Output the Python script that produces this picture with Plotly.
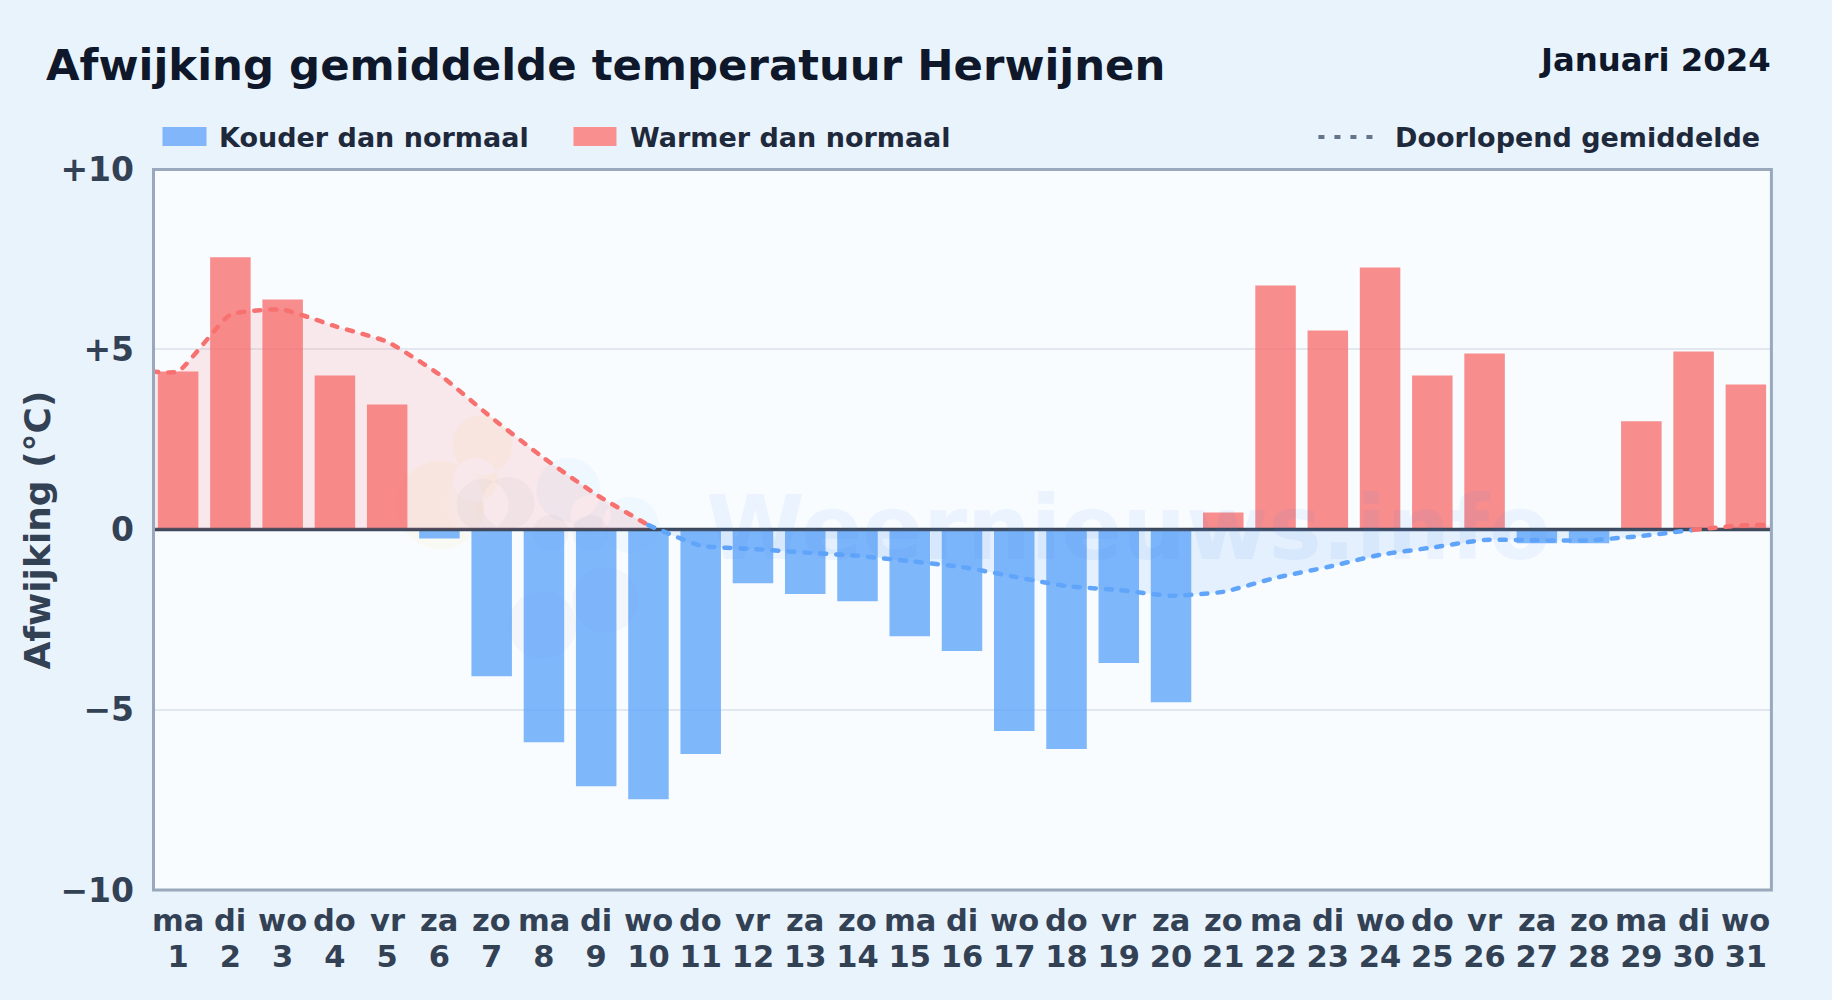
import plotly.graph_objects as go

days = list(range(1, 32))
weekdays = ["ma", "di", "wo", "do", "vr", "za", "zo"] * 4 + ["ma", "di", "wo"]
deviation = [4.38, 7.55, 6.38, 4.27, 3.47, -0.25, -4.07, -5.90, -7.12, -7.48,
             -6.23, -1.49, -1.79, -1.99, -2.96, -3.37, -5.59, -6.09, -3.70, -4.79,
             0.47, 6.77, 5.52, 7.27, 4.27, 4.88, -0.38, -0.38, 3.00, 4.94, 4.02]
running_mean = [4.38, 5.96, 6.10, 5.64, 5.21, 4.30, 3.10, 1.98, 0.97, 0.12,
                -0.45, -0.54, -0.64, -0.73, -0.88, -1.04, -1.31, -1.57, -1.68, -1.84,
                -1.73, -1.34, -1.04, -0.70, -0.50, -0.29, -0.30, -0.30, -0.18, -0.01, 0.12]
y_ticks = [-10, -5, 0, 5, 10]
y_labels = ["−10", "−5", "0", "+5", "+10"]

FONT = "DejaVu Sans"
BLUE, RED = "#60a5fa", "#f87171"
L, R, T, B = 151.5, 1771.6, 169, 890


def px(x):
    return (x - L) / (R - L)


def py(y):
    return (B - y) / (B - T)


def blob(circles):
    k = 0.5523
    parts = []
    for cx, cy, r in circles:
        c = r * k
        pts = [(cx + r, cy), (cx + r, cy + c), (cx + c, cy + r), (cx, cy + r),
               (cx - c, cy + r), (cx - r, cy + c), (cx - r, cy), (cx - r, cy - c),
               (cx - c, cy - r), (cx, cy - r), (cx + c, cy - r), (cx + r, cy - c), (cx + r, cy)]
        f = [f"{px(a):.5f},{py(b):.5f}" for a, b in pts]
        s = "M" + f[0]
        for i in range(1, 13, 3):
            s += " C" + " ".join(f[i:i + 3])
        parts.append(s + " Z")
    return " ".join(parts)


x_edges = [0.5] + days + [31.5]
mean_ext = [running_mean[0]] + running_mean + [running_mean[-1]]
cold = [v if v < 0 else None for v in deviation]
warm = [v if v >= 0 else None for v in deviation]

fig = go.Figure()
fig.add_bar(x=days, y=cold, width=0.775, marker=dict(color=BLUE, opacity=0.8, line_width=0), name="Kouder dan normaal")
fig.add_bar(x=days, y=warm, width=0.775, marker=dict(color=RED, opacity=0.8, line_width=0), name="Warmer dan normaal")
fig.add_scatter(x=[0.5, 31.5], y=[0, 0], mode="lines", line=dict(color="#3b475a", width=3.5), hoverinfo="skip")


def seg(a, b, color, fill):
    fig.add_scatter(x=x_edges[a:b], y=mean_ext[a:b], mode="lines",
                    line=dict(color=color, width=4.5, dash="6px,10px", shape="spline", smoothing=0.45),
                    fill="tozeroy", fillcolor=fill, name="Doorlopend gemiddelde")


seg(0, 11, RED, "rgba(248,113,113,0.14)")
seg(10, 31, BLUE, "rgba(96,165,250,0.13)")
seg(30, 33, RED, "rgba(248,113,113,0.14)")

shapes = [
    dict(type="path", layer="below", xref="paper", yref="paper", line_width=0, fillcolor=fc, path=blob(c))
    for fc, c in [
        ("rgba(250,204,21,0.05)", [(482, 445, 30), (440, 505, 44), (475, 480, 22)]),
        ("rgba(248,252,255,0.5)", [(482, 503, 36), (510, 503, 36), (550, 530, 26), (590, 530, 26)]),
        ("rgba(71,85,105,0.045)", [(482, 505, 26), (508, 503, 26), (550, 533, 18), (590, 533, 18)]),
        ("rgba(96,165,250,0.06)", [(568, 490, 32), (630, 525, 28), (590, 515, 20)]),
        ("rgba(71,85,105,0.035)", [(542, 625, 34), (605, 600, 33)]),
    ]
]
shapes += [
    dict(type="rect", xref="paper", yref="paper", x0=px(153), x1=px(1771), y0=py(890), y1=py(169.5),
         line=dict(color="#9aa8bc", width=3), fillcolor="rgba(0,0,0,0)"),
    dict(type="rect", xref="paper", yref="paper", x0=px(162), x1=px(206), y0=py(146), y1=py(127),
         line_width=0, fillcolor="#82b6fb"),
    dict(type="rect", xref="paper", yref="paper", x0=px(573), x1=px(616), y0=py(146), y1=py(127),
         line_width=0, fillcolor="#f98f8f"),
    dict(type="line", xref="paper", yref="paper", x0=px(1318), x1=px(1378), y0=py(137), y1=py(137),
         line=dict(color="#64748b", width=4, dash="6px,10px")),
]


def note(text, x, y, size, color, anchor="left", angle=0):
    return dict(text=text, xref="paper", yref="paper", x=px(x), y=py(y), xanchor=anchor, yanchor="middle",
                showarrow=False, textangle=angle, font=dict(family=FONT, size=size, color=color, weight="bold"))


annotations = [
    note("Afwijking gemiddelde temperatuur Herwijnen", 43.5, 64.5, 43.4, "#0f172a"),
    note("Januari 2024", 1773, 60, 32.3, "#0f172a", "right"),
    note("Kouder dan normaal", 217, 137, 27, "#1e293b"),
    note("Warmer dan normaal", 628, 137, 27, "#1e293b"),
    note("Doorlopend gemiddelde", 1393, 137, 27, "#1e293b"),
    note("Weernieuws.info", 704, 528, 89.5, "rgba(59,130,246,0.07)"),
    note("Afwijking (°C)", 36, 530, 36, "#334155", "center", -90),
]
for w, d in zip(weekdays, days):
    annotations.append(dict(text=w, xref="x", yref="paper", x=d, y=py(920), xanchor="center", yanchor="middle",
                            showarrow=False, font=dict(family=FONT, size=30.5, color="#334155", weight="bold")))

fig.update_layout(
    width=1832, height=1000, autosize=False, showlegend=False, barmode="overlay",
    margin=dict(l=L, r=1832 - R, t=T, b=1000 - B),
    paper_bgcolor="#e9f3fc", plot_bgcolor="#f8fcff",
    shapes=shapes, annotations=annotations,
    font=dict(family=FONT, color="#334155"),
    xaxis=dict(range=[0.5, 31.5], tickmode="array", tickvals=days, ticktext=[str(d) for d in days],
               tickfont=dict(size=30.5, color="#334155", weight="bold"), ticklabelstandoff=45,
               showgrid=False, zeroline=False, showline=False, ticks="", tickangle=0),
    yaxis=dict(range=[-10, 10], tickmode="array", tickvals=y_ticks, ticktext=y_labels,
               tickfont=dict(size=33, color="#334155", weight="bold"), ticklabelstandoff=17,
               gridcolor="#e2e8f0", gridwidth=2, zeroline=False, showline=False, ticks=""),
)

fig.write_html("out.html", config={"displayModeBar": False}, post_script="""
document.body.style.margin='0';
var gd=document.getElementById('{plot_id}');
function roundCaps(){document.querySelectorAll('.scatterlayer .js-line').forEach(function(p){p.style.strokeLinecap='round';});}
gd.on('plotly_afterplot',roundCaps);roundCaps();
""")
